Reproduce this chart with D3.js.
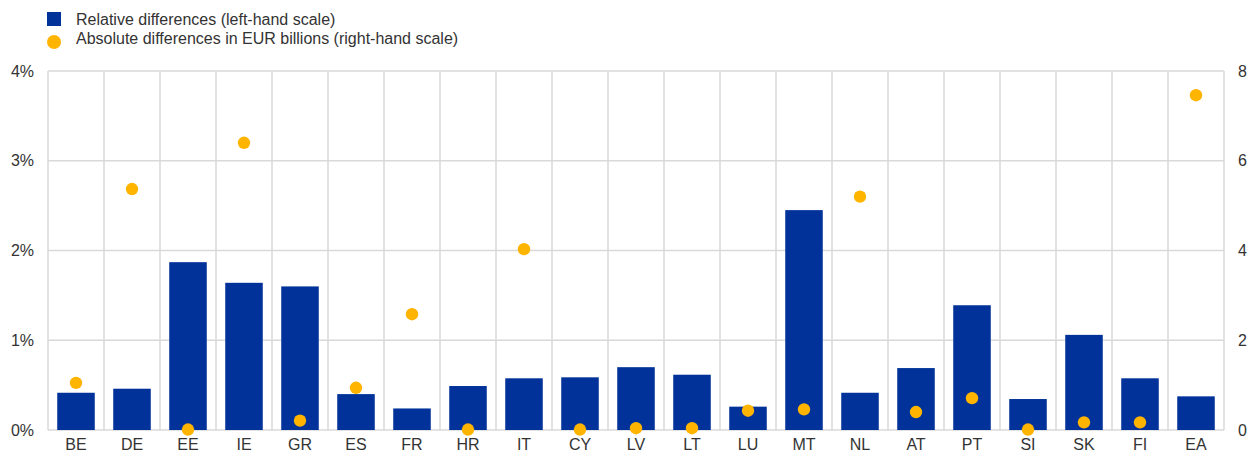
<!DOCTYPE html>
<html>
<head>
<meta charset="utf-8">
<script src="https://cdn.jsdelivr.net/npm/d3@7"></script>
<style>
  html, body { margin: 0; padding: 0; background: #fff; }
  svg { display: block; font-family: "Liberation Sans", Arial, sans-serif; }
</style>
</head>
<body>
<svg id="chart" width="1250" height="457"></svg>
<script>
// Country codes along the x axis
const countries = ["BE","DE","EE","IE","GR","ES","FR","HR","IT","CY","LV","LT","LU","MT","NL","AT","PT","SI","SK","FI","EA"];
// Relative differences, % (left-hand scale)
const relativeDiff = [0.415,0.46,1.87,1.64,1.60,0.40,0.24,0.49,0.576,0.587,0.70,0.616,0.26,2.45,0.415,0.69,1.39,0.345,1.06,0.576,0.375];
// Absolute differences, EUR billions (right-hand scale)
const absoluteDiff = [1.05,5.37,0.01,6.40,0.21,0.94,2.58,0.01,4.03,0.01,0.04,0.04,0.43,0.46,5.20,0.40,0.71,0.01,0.17,0.17,7.46];
// Axis ticks
const leftTicks = [0,1,2,3,4];
const rightTicks = [0,2,4,6,8];
// Legend entries
const legendLabels = ["Relative differences (left-hand scale)", "Absolute differences in EUR billions (right-hand scale)"];

const BLUE = "#003299", YELLOW = "#ffb400", GRID = "#d9d9d9", TEXT = "#333333";
const margin = { left: 48, right: 26, top: 71, bottom: 27 };
const W = 1250, H = 457;
const FONT = "16px";

const svg = d3.select("#chart");

const x = d3.scaleBand().domain(countries).range([margin.left, W - margin.right]).paddingInner(0).paddingOuter(0);
const yL = d3.scaleLinear().domain([0, 4]).range([H - margin.bottom, margin.top]);
const yR = d3.scaleLinear().domain([0, 8]).range([H - margin.bottom, margin.top]);

// Horizontal gridlines
svg.append("g").selectAll("line").data(leftTicks).join("line")
  .attr("x1", margin.left).attr("x2", W - margin.right)
  .attr("y1", d => yL(d)).attr("y2", d => yL(d))
  .attr("stroke", GRID).attr("stroke-width", 1.5);

// Vertical category separators
const seps = countries.map(c => x(c)).concat([x(countries[countries.length - 1]) + x.bandwidth()]);
svg.append("g").selectAll("line").data(seps).join("line")
  .attr("x1", d => d).attr("x2", d => d)
  .attr("y1", margin.top).attr("y2", H - margin.bottom)
  .attr("stroke", GRID).attr("stroke-width", 1.5);

// Bars
const barW = x.bandwidth() * 0.67;
svg.append("g").selectAll("rect").data(countries).join("rect")
  .attr("x", (d) => x(d) + (x.bandwidth() - barW) / 2)
  .attr("width", barW)
  .attr("y", (d, i) => yL(relativeDiff[i]))
  .attr("height", (d, i) => yL(0) - yL(relativeDiff[i]))
  .attr("fill", BLUE);

// Dots
svg.append("g").selectAll("circle").data(countries).join("circle")
  .attr("cx", d => x(d) + x.bandwidth() / 2)
  .attr("cy", (d, i) => yR(absoluteDiff[i]))
  .attr("r", 6.2)
  .attr("fill", YELLOW);

// Left axis
const leftAxis = svg.append("g").attr("transform", `translate(${margin.left},0)`)
  .call(d3.axisLeft(yL).tickValues(leftTicks).tickFormat(d => d + "%").tickSize(0).tickPadding(14));
leftAxis.select(".domain").remove();
leftAxis.selectAll("text").attr("fill", TEXT).style("font-size", FONT);

// Right axis
const rightAxis = svg.append("g").attr("transform", `translate(${W - margin.right},0)`)
  .call(d3.axisRight(yR).tickValues(rightTicks).tickSize(0).tickPadding(14));
rightAxis.select(".domain").remove();
rightAxis.selectAll("text").attr("fill", TEXT).style("font-size", FONT);

// Bottom axis
const bottomAxis = svg.append("g").attr("transform", `translate(0,${H - margin.bottom})`)
  .call(d3.axisBottom(x).tickSize(0).tickPadding(9));
bottomAxis.select(".domain").remove();
bottomAxis.selectAll("text").attr("fill", TEXT).style("font-size", FONT);

// Legend
const legend = svg.append("g");
legend.append("rect").attr("x", 47).attr("y", 12).attr("width", 14).attr("height", 14).attr("fill", BLUE);
legend.append("circle").attr("cx", 54).attr("cy", 42).attr("r", 7).attr("fill", YELLOW);
legend.selectAll("text").data(legendLabels).join("text")
  .attr("x", 76).attr("y", (d, i) => 25 + i * 19)
  .attr("fill", TEXT).style("font-size", FONT)
  .text(d => d);
</script>
</body>
</html>
